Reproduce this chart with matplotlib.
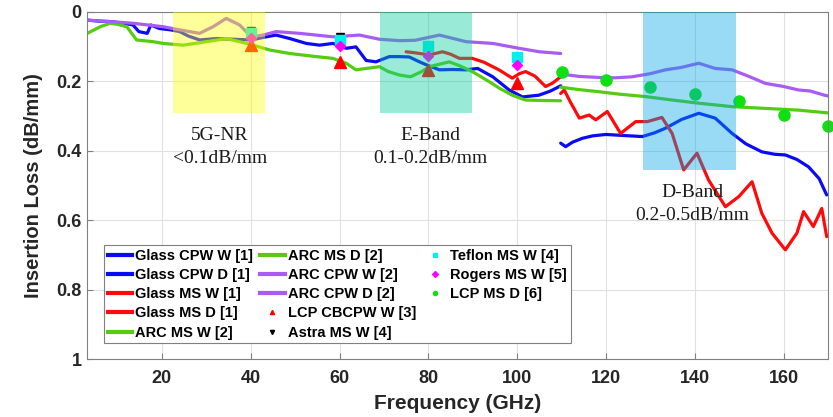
import matplotlib
matplotlib.use("Agg")
import matplotlib.pyplot as plt
from matplotlib.lines import Line2D
from matplotlib.patches import Rectangle

# ---------------- data ----------------
glass_cpw_w_f = [3.2, 6, 8.3, 11, 13.5, 14.8, 16.7, 17.5, 19.4, 22, 24, 26, 28.5, 32.2, 36, 40.1, 43.5, 45.7,
                 48.8, 52.5, 55.5, 58.5, 61.5, 63.7, 66, 68.2, 71.2, 73.5, 75.7, 78, 80, 82.5, 85.5, 88.5,
                 91.1, 94.5, 98.2, 101.2, 104.9, 107.5, 109.8]
glass_cpw_w_v = [0.024, 0.027, 0.028, 0.032, 0.038, 0.057, 0.062, 0.038, 0.048, 0.052, 0.057, 0.07, 0.081,
                 0.077, 0.079, 0.081, 0.072, 0.067, 0.077, 0.091, 0.096, 0.091, 0.105, 0.101, 0.14, 0.144,
                 0.129, 0.129, 0.13, 0.144, 0.155, 0.167, 0.166, 0.167, 0.163, 0.187, 0.225, 0.245, 0.24,
                 0.228, 0.213]

glass_cpw_d_f = [109.8, 110.9, 112.5, 114.7, 117, 120, 124, 128.2, 131, 133.4, 137, 140.9, 144.6, 148.4,
                 151.5, 155.1, 158, 160.4, 163, 165.6, 168, 169.7]
glass_cpw_d_v = [0.378, 0.388, 0.375, 0.364, 0.357, 0.353, 0.356, 0.359, 0.348, 0.335, 0.31, 0.292, 0.306,
                 0.35, 0.38, 0.403, 0.41, 0.412, 0.425, 0.446, 0.48, 0.527]

glass_ms_w_f = [75, 77, 80.2, 83.2, 85, 87, 89.9, 92.5, 95.9, 98.9, 100.5, 101.9, 104, 106.4, 108, 109.8]
glass_ms_w_v = [0.115, 0.118, 0.124, 0.115, 0.122, 0.134, 0.134, 0.145, 0.167, 0.191, 0.178, 0.172, 0.185,
                0.215, 0.205, 0.187]

glass_ms_d_f = [109.8, 110.6, 112, 114, 116.2, 117.7, 120.3, 123.3, 126.7, 129.3, 132.6, 134.9, 137.5,
                140.5, 143.1, 146.9, 149.9, 152.9, 155.1, 157.4, 160.4, 163, 164.5, 166.7, 168.6, 169.7]
glass_ms_d_v = [0.235, 0.225, 0.26, 0.306, 0.297, 0.311, 0.287, 0.35, 0.316, 0.316, 0.304, 0.35, 0.455,
                0.407, 0.484, 0.561, 0.532, 0.489, 0.58, 0.637, 0.685, 0.637, 0.575, 0.618, 0.566, 0.647]

arc_ms_w_f = [3.2, 6.1, 8.3, 10, 12.1, 14.3, 18, 20.3, 24.8, 30, 34.5, 37.5, 40.5, 44.3, 48.8, 54.8, 58.5,
              61.5, 63.7, 66, 69, 71, 73.5, 76, 78.5, 80.2, 84.7, 87, 89.9, 93.7, 96, 98.9, 101.9, 105, 109.8]
arc_ms_w_v = [0.062, 0.043, 0.033, 0.036, 0.043, 0.081, 0.086, 0.091, 0.096, 0.086, 0.077, 0.086, 0.096,
              0.11, 0.12, 0.129, 0.134, 0.148, 0.167, 0.163, 0.158, 0.172, 0.182, 0.187, 0.172, 0.158, 0.144,
              0.155, 0.172, 0.201, 0.22, 0.24, 0.254, 0.255, 0.256]

arc_ms_d_f = [109.8, 114, 118.4, 123, 128.9, 135, 140.9, 148.4, 155.9, 163.4, 169.2, 170]
arc_ms_d_v = [0.217, 0.224, 0.23, 0.237, 0.244, 0.254, 0.263, 0.273, 0.278, 0.283, 0.29, 0.291]

arc_cpw_w_f = [3.2, 8, 13.5, 20.3, 24, 28.5, 31.5, 34.5, 37.5, 40.1, 42.8, 45.7, 51, 58.5, 64.5, 69, 73.5,
               77, 82.5, 88.5, 94.5, 100.4, 105, 109.8]
arc_cpw_w_v = [0.024, 0.028, 0.033, 0.043, 0.052, 0.062, 0.043, 0.019, 0.038, 0.072, 0.067, 0.057, 0.062,
               0.072, 0.067, 0.079, 0.083, 0.082, 0.067, 0.086, 0.091, 0.105, 0.115, 0.12]

arc_cpw_d_f = [109.8, 114, 118.4, 122, 125.9, 130, 133.4, 137, 140.9, 144.6, 148.4, 152, 155.9, 160, 163.4,
               166, 169.2, 170]
arc_cpw_d_v = [0.179, 0.186, 0.189, 0.19, 0.187, 0.178, 0.167, 0.16, 0.148, 0.163, 0.167, 0.185, 0.206,
               0.215, 0.225, 0.228, 0.24, 0.242]

point_f = [40, 60, 80, 100]
lcp_cbcpw_w = [0.095, 0.144, 0.167, 0.204]
astra_ms_w = [0.055, 0.073, 0.102, 0.14]
teflon_ms_w = [0.062, 0.081, 0.098, 0.129]
rogers_ms_w = [0.074, 0.097, 0.128, 0.153]

lcp_ms_d_f = [110, 120, 130, 140, 150, 160, 170]
lcp_ms_d_v = [0.172, 0.196, 0.217, 0.237, 0.257, 0.297, 0.329]

bands = [("5G-NR\n<0.1dB/mm", 22.4, 43.2, 0.29, "#FFFF00"),
         ("E-Band\n0.1-0.2dB/mm", 69.1, 89.8, 0.29, "#00CC99"),
         ("D-Band\n0.2-0.5dB/mm", 128.4, 149.2, 0.455, "#00A6E6")]

x_ticks = [20, 40, 60, 80, 100, 120, 140, 160]
y_ticks = [0, 0.2, 0.4, 0.6, 0.8, 1]

# ---------------- figure ----------------
SANS = ["Liberation Sans", "DejaVu Sans"]
SERIF = ["Liberation Serif", "DejaVu Serif"]
plt.rcParams["font.family"] = SANS

fig = plt.figure(figsize=(8.33, 4.17), dpi=100)
ax = fig.add_axes([0.1048, 0.1384, 0.8892, 0.8333])

BLUE = "#0A0AF5"
RED = "#FF0A0A"
GREEN = "#55CC10"
PURPLE = "#A95CF2"
lw = 2.3

series = [
    ("Glass CPW W [1]", glass_cpw_w_f, glass_cpw_w_v, BLUE),
    ("Glass CPW D [1]", glass_cpw_d_f, glass_cpw_d_v, BLUE),
    ("Glass MS W [1]", glass_ms_w_f, glass_ms_w_v, RED),
    ("Glass MS D [1]", glass_ms_d_f, glass_ms_d_v, RED),
    ("ARC MS W [2]", arc_ms_w_f, arc_ms_w_v, GREEN),
    ("ARC MS D [2]", arc_ms_d_f, arc_ms_d_v, GREEN),
    ("ARC CPW W [2]", arc_cpw_w_f, arc_cpw_w_v, PURPLE),
    ("ARC CPW D [2]", arc_cpw_d_f, arc_cpw_d_v, PURPLE),
]
handles = []
labels = []
for name, f, v, c in series:
    ax.plot(f, v, color=c, lw=lw, solid_joinstyle="round", solid_capstyle="round", zorder=2)
    handles.append(Line2D([], [], color=c, lw=3))
    labels.append(name)

pts = [
    ("LCP CBCPW W [3]", point_f, lcp_cbcpw_w, "^", "#FF0000", 8),
    ("Astra MS W [4]", point_f, astra_ms_w, "v", "#000000", 6),
    ("Teflon MS W [4]", point_f, teflon_ms_w, "s", "#00F0F0", 6.5),
    ("Rogers MS W [5]", point_f, rogers_ms_w, "D", "#FF00FF", 5.5),
    ("LCP MS D [6]", lcp_ms_d_f, lcp_ms_d_v, "o", "#10E010", 8),
]
for name, f, v, m, c, ms in pts:
    ax.plot(f, v, ls="none", marker=m, color=c, ms=ms, mec=c, zorder=2.5, clip_on=False)
    handles.append(Line2D([], [], ls="none", marker=m, color=c, ms=3, mec=c))
    labels.append(name)

for txt, x0, x1, ytop, col in bands:
    ax.add_patch(Rectangle((x0, 0), x1 - x0, ytop, facecolor=col, alpha=0.4, lw=0, zorder=3))

ax.text(33, 0.39, bands[0][0], family=SERIF, fontsize=14, ha="center", va="center",
        linespacing=1.45, color="#1a1a1a", zorder=4)
ax.text(80.5, 0.39, bands[1][0], family=SERIF, fontsize=14, ha="center", va="center",
        linespacing=1.45, color="#1a1a1a", zorder=4)
ax.text(139.4, 0.553, bands[2][0], family=SERIF, fontsize=14, ha="center", va="center",
        linespacing=1.45, color="#1a1a1a", zorder=4)

# blanks so the legend columns split 5/5/3
for _ in range(2):
    handles.append(Line2D([], [], ls="none"))
    labels.append("")

leg = ax.legend(handles, labels, ncol=3, loc="lower left", bbox_to_anchor=(0.0225, 0.046),
                borderaxespad=0, prop={"weight": "bold", "size": 10.5},
                handlelength=1.7, handletextpad=0.2, columnspacing=0.45, labelspacing=0.36,
                borderpad=0.25, frameon=True, fancybox=False, edgecolor="#808080", framealpha=1)
leg.get_frame().set_linewidth(0.8)
leg.set_zorder(10)

ax.set_xlim(3.2, 170)
ax.set_ylim(1, 0)
ax.set_xticks(x_ticks)
ax.set_yticks(y_ticks)
ax.set_yticklabels([f"{t:g}" for t in y_ticks])
ax.grid(True, color="#e0e0e0", lw=0.8)
ax.set_axisbelow(True)
ax.tick_params(direction="in", length=4, color="#808080", labelsize=13, labelcolor="#262626")
ax.tick_params(axis="x", pad=8)
ax.tick_params(axis="y", pad=4)
for lab in ax.get_xticklabels() + ax.get_yticklabels():
    lab.set_fontweight("bold")
for s in ax.spines.values():
    s.set_color("#808080")
    s.set_linewidth(0.8)

ax.set_xlabel("Frequency (GHz)", fontsize=15, fontweight="bold", color="#262626", labelpad=5)
ax.set_ylabel("Insertion Loss (dB/mm)", fontsize=14.5, fontweight="bold", color="#262626", labelpad=10)

fig.savefig("out.png", dpi=100)
